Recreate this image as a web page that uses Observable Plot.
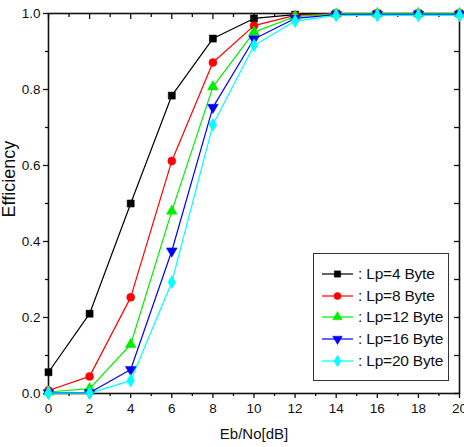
<!DOCTYPE html>
<html>
<head>
<meta charset="utf-8">
<script src="https://cdn.jsdelivr.net/npm/d3@7"></script>
<script src="https://cdn.jsdelivr.net/npm/@observablehq/plot@0.6"></script>
<style>
  html, body { margin: 0; padding: 0; background: #fff; }
  #wrap { position: relative; width: 464px; height: 447px; }
  #legend { position: absolute; left: 313px; top: 253px; width: 134px; height: 126px;
    border: 1px solid #333; background: #fff; box-sizing: content-box; }
  .row { position: absolute; left: 0; height: 20px; display: flex; align-items: center;
    font-family: "Liberation Sans", Arial, sans-serif; font-size: 15.5px; color: #111; letter-spacing: -0.2px; }
  .row svg { display: block; margin-left: 7px; margin-right: 4px; }
</style>
</head>
<body>
<div id="wrap"></div>
<script>
// ---- data ----
const ebno = [0, 2, 4, 6, 8, 10, 12, 14, 16, 18, 20];
const seriesNames = [": Lp=4 Byte", ": Lp=8 Byte", ": Lp=12 Byte", ": Lp=16 Byte", ": Lp=20 Byte"];
const lp4  = [0.056, 0.21, 0.50, 0.784, 0.934, 0.987, 0.997, 1.0, 1.0, 1.0, 1.0];
const lp8  = [0.008, 0.045, 0.253, 0.612, 0.871, 0.968, 0.995, 1.0, 1.0, 1.0, 1.0];
const lp12 = [0.004, 0.013, 0.129, 0.48, 0.807, 0.951, 0.992, 0.999, 1.0, 1.0, 1.0];
const lp16 = [0.002, 0.002, 0.063, 0.375, 0.753, 0.933, 0.987, 0.997, 0.998, 0.998, 0.998];
const lp20 = [0.001, 0.001, 0.034, 0.293, 0.707, 0.916, 0.98, 0.995, 0.995, 0.995, 0.995];
const xMajor = [0, 2, 4, 6, 8, 10, 12, 14, 16, 18, 20];
const xMinor = [1, 3, 5, 7, 9, 11, 13, 15, 17, 19];
const yMajor = [0, 0.2, 0.4, 0.6, 0.8, 1.0];
const yMinor = [0.1, 0.3, 0.5, 0.7, 0.9];
const xTitle = "Eb/No[dB]";
const yTitle = "Efficiency";

const colors = ["#000000", "#ff0000", "#00ee00", "#0000ff", "#00ffff"];
const symbols = ["square", "circle", "triangle", "triangle", "diamond"];
const rotations = [0, 0, 0, 180, 0];

const allSeries = [lp4, lp8, lp12, lp16, lp20];
const table = [];
allSeries.forEach((vals, i) => vals.forEach((v, j) => table.push({x: ebno[j], y: v, s: seriesNames[i], rot: rotations[i]})));

const W = 464, H = 447, mL = 48, mR = 5, mT = 13, mB = 54;
const plotW = W - mL - mR, plotH = H - mT - mB;
const tickFont = "'Liberation Sans Narrow', 'Arial Narrow', 'Liberation Sans', Arial, sans-serif";

const chart = Plot.plot({
  width: W, height: H,
  marginLeft: mL, marginRight: mR, marginTop: mT, marginBottom: mB,
  style: {fontFamily: "'Liberation Sans', Arial, sans-serif", fontSize: "14px", color: "#111", background: "#fff"},
  x: {domain: [0, 20]},
  y: {domain: [0, 1]},
  color: {domain: seriesNames, range: colors},
  symbol: {domain: seriesNames, range: symbols},
  marks: [
    // bottom axis (outward)
    Plot.axisX({anchor: "bottom", ticks: xMajor, tickSize: 5, tickPadding: 5, tickFormat: d3.format("d"),
      fontFamily: tickFont, fontSize: 13.5, label: null, strokeWidth: 1.3}),
    Plot.axisX({anchor: "bottom", ticks: xMinor, tickSize: 3, tickFormat: () => "", label: null, strokeWidth: 1.3}),
    // left axis (outward)
    Plot.axisY({anchor: "left", ticks: yMajor, tickSize: 5, tickPadding: 3, tickFormat: d3.format(".1f"),
      fontFamily: tickFont, fontSize: 13.5, label: null, strokeWidth: 1.3}),
    Plot.axisY({anchor: "left", ticks: yMinor, tickSize: 3, tickFormat: () => "", label: null, strokeWidth: 1.3}),
    // axis titles
    Plot.text([xTitle], {text: d => d, frameAnchor: "bottom", dy: 45, fontSize: 15, fill: "#111"}),
    Plot.text([yTitle], {text: d => d, frameAnchor: "left", rotate: -90, dx: -39, dy: 14, fontSize: 18, fill: "#111"}),
    // top inward ticks
    Plot.tickX(xMajor, {x: d => d, insetBottom: plotH - 6, stroke: "#111", strokeWidth: 1.3}),
    Plot.tickX(xMinor, {x: d => d, insetBottom: plotH - 4, stroke: "#111", strokeWidth: 1.3}),
    // right inward ticks
    Plot.tickY(yMajor, {y: d => d, insetLeft: plotW - 5, stroke: "#111", strokeWidth: 1.3}),
    Plot.tickY(yMinor, {y: d => d, insetLeft: plotW - 5, stroke: "#111", strokeWidth: 1.3}),
    Plot.frame({stroke: "#111", strokeWidth: 1.6}),
    // series
    Plot.line(table, {x: "x", y: "y", z: "s", stroke: "s", strokeWidth: 1.2}),
    Plot.dot(table, {x: "x", y: "y", fill: "s", stroke: "s", symbol: "s", rotate: "rot", r: 4, strokeWidth: 0.5})
  ]
});

const wrap = document.getElementById("wrap");
wrap.appendChild(chart);

// legend
const legend = document.createElement("div");
legend.id = "legend";
wrap.appendChild(legend);
const symMap = {square: d3.symbolSquare, circle: d3.symbolCircle, triangle: d3.symbolTriangle, diamond: d3.symbolDiamond};
seriesNames.forEach((name, i) => {
  const row = document.createElement("div");
  row.className = "row";
  row.style.top = (10 + i * 21.7) + "px";
  const svg = d3.create("svg").attr("width", 33).attr("height", 14);
  svg.append("line").attr("x1", 1).attr("x2", 32).attr("y1", 7).attr("y2", 7)
    .attr("stroke", colors[i]).attr("stroke-width", 1.2);
  svg.append("path").attr("d", d3.symbol(symMap[symbols[i]], 40)())
    .attr("transform", `translate(16.5,7) rotate(${rotations[i]})`)
    .attr("fill", colors[i]).attr("stroke", colors[i]).attr("stroke-width", 0.5);
  row.appendChild(svg.node());
  const span = document.createElement("span");
  span.textContent = name;
  row.appendChild(span);
  legend.appendChild(row);
});
</script>
</body>
</html>
